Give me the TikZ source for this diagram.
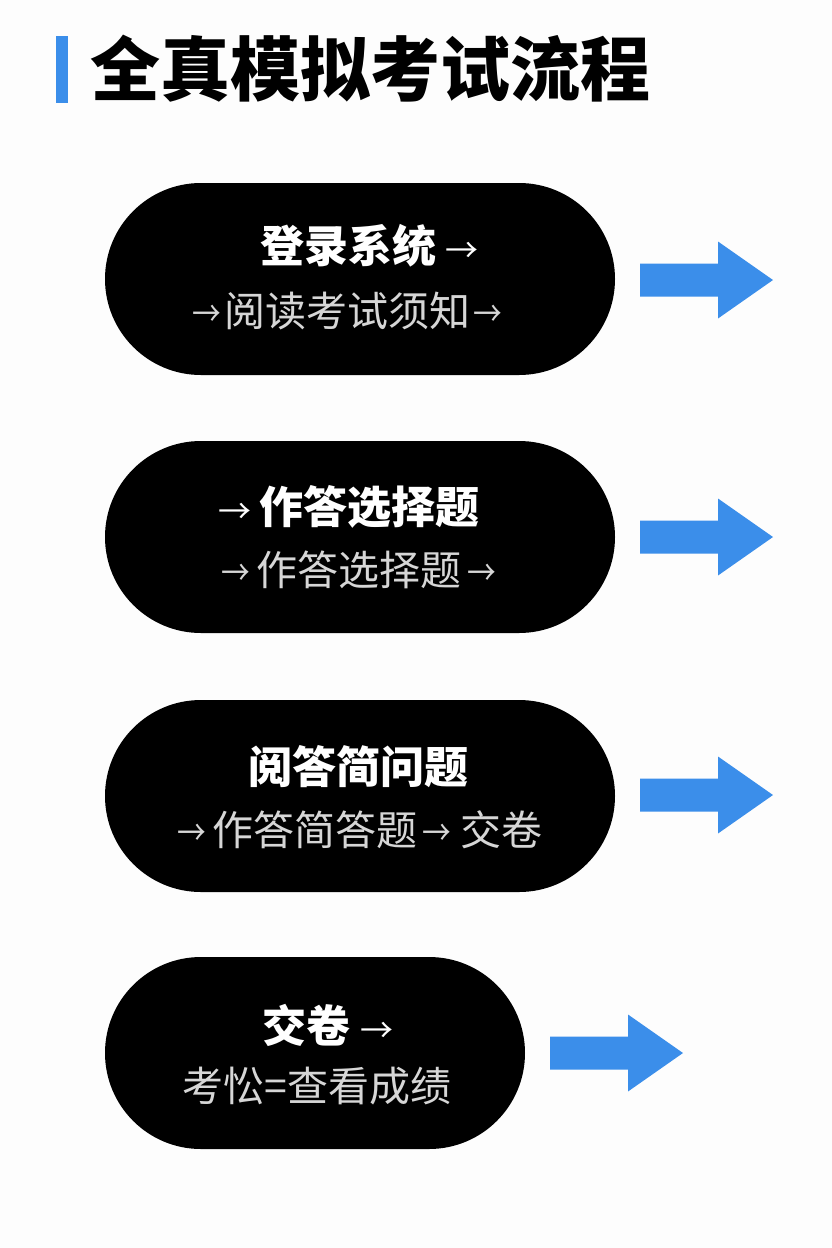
\documentclass[tikz,border=0pt]{standalone}
\usepackage{fontspec}
\usepackage{graphicx}
\newfontfamily\cjk{Noto Sans CJK SC}
\usetikzlibrary{shapes.misc}
\definecolor{accent}{RGB}{59,142,234}
\definecolor{subgrey}{RGB}{214,214,214}
\definecolor{bg}{RGB}{253,253,253}
\tikzset{
  pill/.style={rounded rectangle, fill=black, draw=none, minimum height=192pt, inner sep=0pt},
  headline/.style={text=white, font=\cjk\bfseries\fontsize{44}{50}\selectfont, inner sep=0pt, anchor=center},
  subline/.style={text=subgrey, font=\cjk\fontsize{41}{46}\selectfont, inner sep=0pt, anchor=center},
  flowarrow/.style={fill=accent, draw=none}
}
\newcommand{\ha}{{\mdseries\scalebox{0.75}{→}}}
\newcommand{\sa}{\scalebox{0.7}[0.85]{→}}
\newcommand{\flowarr}[3]{% name, left x, center y
  \fill[flowarrow] (#2,#3-16.5) -- ++(78,0) -- ++(0,-22) -- ++(55,38.5) -- ++(-55,38.5) -- ++(0,-22) -- ++(-78,0) -- cycle;
  \coordinate (#1) at (#2+133,#3);
}
\begin{document}
\begin{tikzpicture}[x=1pt,y=-1pt]
\path[use as bounding box, fill=bg] (0,0) rectangle (832,1248);
% title
\fill[accent] (56,36) rectangle (68,103);
\node[anchor=west, inner sep=0pt, font=\cjk\bfseries\fontsize{70}{80}\selectfont] (title) at (90,69) {全真模拟考试流程};
% pill 1
\node[pill, minimum width=510pt] (p1) at (360,279) {};
\node[headline] (p1a) at (369,246) {登录系统\hspace{9pt}\ha};
\node[subline] (p1b) at (347,311) {\sa\hspace{3pt}阅读考试须知\hspace{3pt}\sa};
\flowarr{a1}{640}{280}
% pill 2
\node[pill, minimum width=510pt] (p2) at (360,537) {};
\node[headline] (p2a) at (349,507) {\ha\hspace{8pt}作答选择题};
\node[subline] (p2b) at (359,570) {\sa\hspace{6pt}作答选择题\hspace{6pt}\sa};
\flowarr{a2}{640}{537}
% pill 3
\node[pill, minimum width=510pt] (p3) at (360,796) {};
\node[headline] (p3a) at (358,767) {阅答简问题};
\node[subline] (p3b) at (360,830) {\sa\hspace{6pt}作答简答题\hspace{5pt}\sa\hspace{9pt}交卷};
\flowarr{a3}{640}{795}
% pill 4
\node[pill, minimum width=420pt] (p4) at (315,1053) {};
\node[headline] (p4a) at (328,1025) {交卷\hspace{10pt}\ha};
\node[subline] (p4b) at (317,1086) {考忪=查看成绩};
\flowarr{a4}{550}{1053}
\end{tikzpicture}
\end{document}
